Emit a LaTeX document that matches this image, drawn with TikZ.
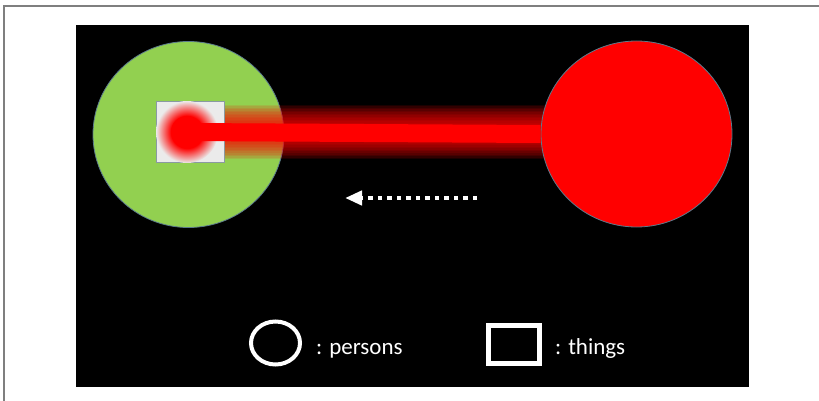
\documentclass[tikz,border=0pt]{standalone}
\usepackage{fontspec}
\setmainfont{Carlito}
\usetikzlibrary{shapes.geometric,arrows.meta}
\definecolor{greenp}{HTML}{92D050}
\definecolor{sqfill}{HTML}{EBEBEB}
\definecolor{sqline}{HTML}{8A9AA2}
\definecolor{outl}{HTML}{5B7B8C}
\definecolor{frameg}{HTML}{7F7F7F}
\pgfdeclareradialshading{dotglow}{\pgfpoint{0bp}{0bp}}{color(0bp)=(red); color(13bp)=(red); color(25bp)=(sqfill); color(50bp)=(sqfill)}
\tikzset{
  person/.style={ellipse, draw=outl, line width=0.8pt, inner sep=0pt, minimum width=191pt, minimum height=186pt},
  thing/.style={rectangle, draw=sqline, line width=1pt, fill=sqfill, inner sep=0pt, minimum width=68pt, minimum height=60pt},
  dotnode/.style={circle, fill=red, inner sep=0pt, minimum size=32pt},
  legtext/.style={text=white, anchor=base west, inner sep=0pt, font=\fontsize{23}{27}\selectfont},
  legline/.style={draw=white, line width=4pt},
}
\begin{document}
\begin{tikzpicture}[x=1pt,y=-1pt]
\useasboundingbox (0,0) rectangle (819,401);
\fill[white] (0,0) rectangle (819,401);
\draw[frameg, line width=2pt] (4,401) -- (4,6) -- (819,6);
\fill[black] (76,25) rectangle (749,387);
% persons
\node[person, fill=greenp] (gp) at (188.5,134.5) {};
\coordinate (glowstart) at (200,132);
\coordinate (glowend) at (636,132);
% bar glow
\foreach \h in {9,10.5,...,27}{
  \fill[red, opacity=0.1] ([yshift=-\h pt]glowstart) rectangle ([yshift=\h pt]glowend);
}
% thing
\node[thing] (th) at (190,132) {};
\begin{scope}
  \clip (th.south west) rectangle (th.north east);
  \shade[shading=dotglow] (187,132) circle (31);
\end{scope}
\node[dotnode] (dot) at (187,132) {};
\node[person, fill=red] (rp) at (636.5,134) {};
% bar
\draw[red, line width=18pt] (dot.center) -- (rp.west);
% arrow
\coordinate (astart) at (477,198);
\coordinate (aend) at (345,198);
\draw[white, line width=4.5pt, dash pattern=on 4.5pt off 5pt, -{Triangle[length=17pt,width=14pt]}] (astart) -- (aend);
% legend
\node[ellipse, legline, inner sep=0pt, minimum width=49pt, minimum height=43pt] (lp) at (275.5,343) {};
\node[legtext] (lpt) at (316,354) {: persons};
\node[rectangle, draw=white, line width=5pt, inner sep=0pt, minimum width=51pt, minimum height=38pt] (lt) at (514,344.5) {};
\node[legtext] (ltt) at (555,354) {: things};
\end{tikzpicture}
\end{document}
